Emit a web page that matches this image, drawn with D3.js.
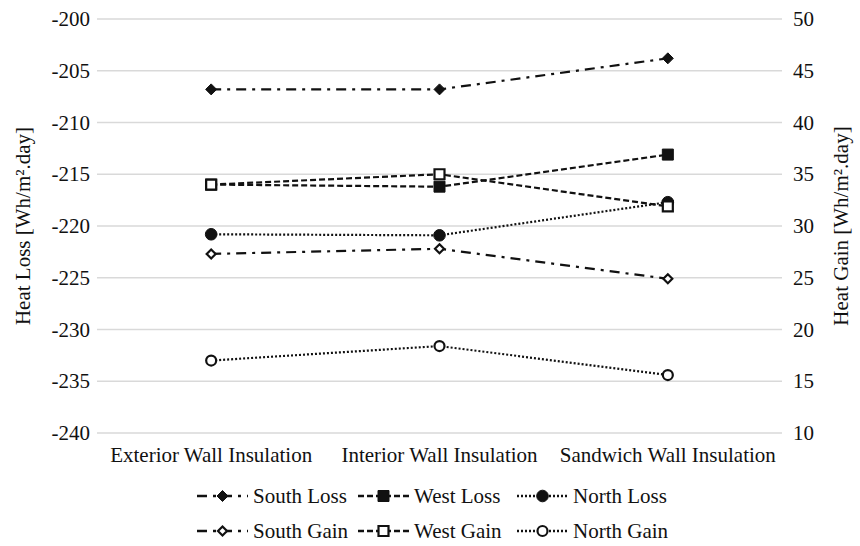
<!DOCTYPE html>
<html>
<head>
<meta charset="utf-8">
<script src="https://cdn.jsdelivr.net/npm/d3@7"></script>
<style>
  html, body { margin: 0; padding: 0; background: #fff; }
  svg { display: block; }
  text { font-family: "Liberation Serif", "Times New Roman", serif; fill: #111; }
</style>
</head>
<body>
<svg id="chart" width="860" height="546"></svg>
<script>
// Wall insulation position vs. heat loss / heat gain per orientation
const categories = ["Exterior Wall Insulation", "Interior Wall Insulation", "Sandwich Wall Insulation"];

// Heat loss [Wh/m².day] – left axis
const southLoss = [-206.8, -206.8, -203.8];
const westLoss  = [-216.0, -216.2, -213.1];
const northLoss = [-220.8, -220.9, -217.7];

// Heat gain [Wh/m².day] – right axis
const southGain = [27.3, 27.8, 24.9];
const westGain  = [34.0, 35.0, 31.9];
const northGain = [17.0, 18.4, 15.6];

const lossTicks = [-240, -235, -230, -225, -220, -215, -210, -205, -200];
const gainTicks = [10, 15, 20, 25, 30, 35, 40, 45, 50];

const seriesNames = ["South Loss", "West Loss", "North Loss", "South Gain", "West Gain", "North Gain"];
const seriesValues = [southLoss, westLoss, northLoss, southGain, westGain, northGain];
const seriesAxis = ["left", "left", "left", "right", "right", "right"];

// line / marker styles
const dashes = { south: "10,6,3,6", west: "6,3", north: "2,2" };
const styles = [
  { dash: dashes.south, shape: "diamond", fill: "#111", r: 5.5 },
  { dash: dashes.west,  shape: "square",  fill: "#111", r: 5.5 },
  { dash: dashes.north, shape: "circle",  fill: "#111", r: 5.8 },
  { dash: dashes.south, shape: "diamond", fill: "#fff", r: 4.5 },
  { dash: dashes.west,  shape: "square",  fill: "#fff", r: 5 },
  { dash: dashes.north, shape: "circle",  fill: "#fff", r: 5 }
];

const svg = d3.select("#chart");
const W = 860, H = 546;
const plot = { left: 97, right: 782, top: 19, bottom: 433 };

svg.append("rect").attr("width", W).attr("height", H).attr("fill", "#fff");

const x = d3.scaleBand().domain(categories).range([plot.left, plot.right]).padding(0);
const xc = c => x(c) + x.bandwidth() / 2;
const yL = d3.scaleLinear().domain([-240, -200]).range([plot.bottom, plot.top]);
const yR = d3.scaleLinear().domain([10, 50]).range([plot.bottom, plot.top]);

// gridlines
svg.append("g")
  .selectAll("line")
  .data(lossTicks)
  .join("line")
  .attr("x1", plot.left).attr("x2", plot.right)
  .attr("y1", d => yL(d)).attr("y2", d => yL(d))
  .attr("stroke", "#d9d9d9").attr("stroke-width", 1.3);

const fs = 21;
const plain = d => String(d);

// left axis
const leftAxis = svg.append("g")
  .attr("transform", `translate(${plot.left - 7},0)`)
  .call(d3.axisLeft(yL).tickValues(lossTicks).tickSize(0).tickPadding(0).tickFormat(plain));
leftAxis.select(".domain").remove();
leftAxis.selectAll("text").attr("font-size", fs).attr("font-family", "Liberation Serif").attr("fill", "#111");

// right axis
const rightAxis = svg.append("g")
  .attr("transform", `translate(${plot.right + 11},0)`)
  .call(d3.axisRight(yR).tickValues(gainTicks).tickSize(0).tickPadding(0).tickFormat(plain));
rightAxis.select(".domain").remove();
rightAxis.selectAll("text").attr("font-size", fs).attr("font-family", "Liberation Serif").attr("fill", "#111");

// category axis
const bottomAxis = svg.append("g")
  .attr("transform", `translate(0,${plot.bottom})`)
  .call(d3.axisBottom(x).tickSize(0).tickPadding(14));
bottomAxis.select(".domain").remove();
bottomAxis.selectAll("text").attr("font-size", fs).attr("font-family", "Liberation Serif").attr("fill", "#111");

// axis titles
svg.append("text")
  .attr("transform", `translate(30,${(plot.top + plot.bottom) / 2}) rotate(-90)`)
  .attr("text-anchor", "middle")
  .attr("font-size", fs)
  .text("Heat Loss [Wh/m².day]");
svg.append("text")
  .attr("transform", `translate(848,${(plot.top + plot.bottom) / 2}) rotate(-90)`)
  .attr("text-anchor", "middle")
  .attr("font-size", fs)
  .text("Heat Gain [Wh/m².day]");

function markerPath(shape, r) {
  if (shape === "diamond") return `M0,${-r}L${r},0L0,${r}L${-r},0Z`;
  if (shape === "square") return `M${-r},${-r}H${r}V${r}H${-r}Z`;
  return d3.symbol().type(d3.symbolCircle).size(Math.PI * r * r)();
}

function drawMarker(g, st, cx, cy) {
  g.append("path")
    .attr("d", markerPath(st.shape, st.r))
    .attr("transform", `translate(${cx},${cy})`)
    .attr("fill", st.fill)
    .attr("stroke", "#111")
    .attr("stroke-width", st.fill === "#fff" ? 2.2 : 1);
}

// series
seriesNames.forEach((name, i) => {
  const y = seriesAxis[i] === "left" ? yL : yR;
  const st = styles[i];
  const pts = seriesValues[i].map((v, j) => [xc(categories[j]), y(v)]);
  const g = svg.append("g").attr("class", "series");
  g.append("path")
    .attr("d", d3.line()(pts))
    .attr("fill", "none")
    .attr("stroke", "#111")
    .attr("stroke-width", 2.2)
    .attr("stroke-dasharray", st.dash);
  pts.forEach(p => drawMarker(g, st, p[0], p[1]));
});

// legend
const legCols = [197, 358, 517];
const legRows = [496, 531];
const sampleLen = 51;
seriesNames.forEach((name, i) => {
  const st = styles[i];
  const lx = legCols[i % 3], ly = legRows[Math.floor(i / 3)];
  const g = svg.append("g");
  g.append("line")
    .attr("x1", lx).attr("x2", lx + sampleLen)
    .attr("y1", ly).attr("y2", ly)
    .attr("stroke", "#111").attr("stroke-width", 2.5)
    .attr("stroke-dasharray", st.dash);
  drawMarker(g, st, lx + sampleLen / 2, ly);
  g.append("text")
    .attr("x", lx + sampleLen + 5).attr("y", ly)
    .attr("dy", "0.35em")
    .attr("font-size", fs)
    .text(name);
});
</script>
</body>
</html>
